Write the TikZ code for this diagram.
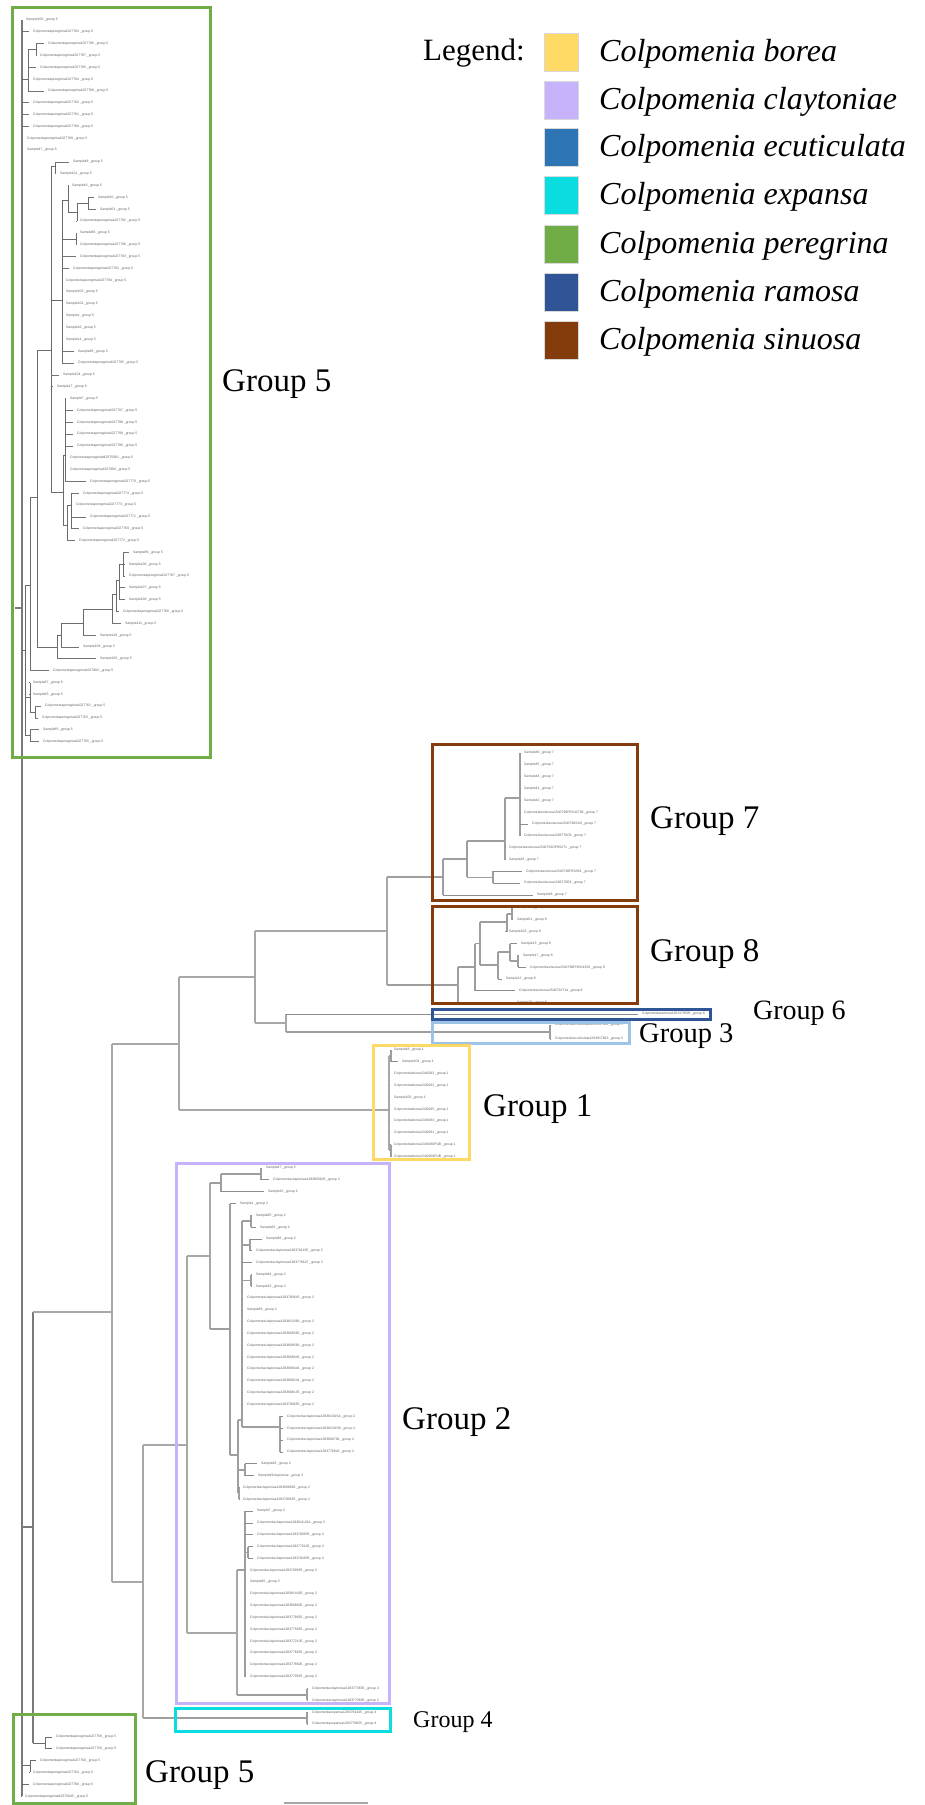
\documentclass[tikz,border=0pt]{standalone}
\usepackage{fontspec}
\setmainfont{Liberation Serif}
\newfontfamily\leaffont{Liberation Sans}

\definecolor{cborea}{HTML}{FFD966}
\definecolor{cclay}{HTML}{C7B3FC}
\definecolor{cecut}{HTML}{2E75B6}
\definecolor{cexp}{HTML}{0ADCE0}
\definecolor{cpere}{HTML}{70AD47}
\definecolor{cramo}{HTML}{2F5597}
\definecolor{csinu}{HTML}{843C0C}
\definecolor{cecutbox}{HTML}{9DC3E6}

% leaf label texts
\newcommand\lsm[2]{Sample#1 \_group #2}
\newcommand\lpg[1]{Colpomeniaperegrina#1 \_group 5}
\newcommand\lcl[1]{Colpomeniaclaytoniae#1 \_group 2}
\newcommand\lsn[2]{Colpomeniasinuosa#1 \_group #2}
\newcommand\lbo[1]{Colpomeniaborea#1 \_group 1}
\newcommand\lex[1]{Colpomeniaexpansa#1 \_group 4}

% internal node: name, x, top y, bottom y, y where the parent branch enters
\newcommand\dnode[5]{%
  \coordinate (#1) at (#2,#5);
  \coordinate (#1-top) at (#2,#3);
  \coordinate (#1-bot) at (#2,#4);
  \draw[br] (#1-top) -- (#1-bot);}
% horizontal branch from a parent node to a child node
\newcommand\dlink[2]{\draw[br] (#1 |- #2) -- (#2);}
% leaf: name, parent, y, x of label text, text
\newcommand\dleaf[5]{%
  \node[lf] (#1) at ({#4-4.5},#3) {#5};
  \draw[tip] (#2 |- #1.west) -- (#1.west);}

\tikzset{
  lf/.style={anchor=west, inner xsep=4.5pt, inner ysep=0pt, text=black!62,
    font=\leaffont\fontsize{3.4}{4}\selectfont},
  grp/.style={anchor=base west, inner sep=0pt},
  sp/.style={anchor=base west, inner sep=0pt, font=\itshape\fontsize{32}{36}\selectfont},
  sq/.style={minimum width=34pt, minimum height=38pt, inner sep=0pt, draw=white!85!black, line width=0.6pt},
  box/.style={line width=3pt},
}

\begin{document}
\begin{tikzpicture}[x=1pt,y=-1pt]
\useasboundingbox (0,0) rectangle (924,1805);
\fill[white] (0,0) rectangle (924,1805);

% ---------- root ----------
\tikzset{br/.style={draw=black!52,line width=1.2pt}, tip/.style={draw=black!55,line width=0.75pt}}
\dnode{R}{22}{20}{1796}{608}
\coordinate (stub) at (15,608);
\draw[br] (stub) -- (R);

% ---------- upper peregrina clade ----------
\tikzset{br/.style={draw=black!58,line width=0.8pt}}
\dleaf{a1}{R}{20.0}{26}{\lsm{100}{5}}
\dleaf{a2}{R}{31.8}{33}{\lpg{1027783}}
\dnode{N28}{28}{49.6}{91.0}{79.2}\dlink{R}{N28}
\dnode{N36}{36}{43.7}{55.5}{49.6}\dlink{N28}{N36}
\dleaf{a3}{N36}{43.7}{48}{\lpg{1027786}}
\dleaf{a4}{N36}{55.5}{40}{\lpg{1027787}}
\dleaf{a5}{N28}{67.3}{40}{\lpg{1027785}}
\dleaf{a6}{N28}{79.2}{33}{\lpg{1027784}}
\dleaf{a7}{N28}{91.0}{48}{\lpg{1027788}}
\dleaf{a8}{R}{102.8}{33}{\lpg{1027782}}
\dleaf{a9}{R}{114.6}{33}{\lpg{1027781}}
\dleaf{a10}{R}{126.5}{33}{\lpg{1027780}}
\dleaf{a11}{R}{138.3}{27}{\lpg{1027789}}
\dleaf{a12}{R}{150.1}{27}{\lsm{47}{5}}
\dnode{N25}{25}{585}{735.7}{650}\dlink{R}{N25}
\dnode{N30}{30}{497}{670.7}{585}\dlink{N25}{N30}
\dnode{N37}{37}{350}{647}{497}\dlink{N30}{N37}
\dnode{N51}{51}{166}{492}{350}\dlink{N37}{N51}
\dnode{N55}{55}{162.0}{173.8}{166}\dlink{N51}{N55}
\dleaf{a13}{N55}{162.0}{73}{\lsm{48}{5}}
\dleaf{a14}{N55}{173.8}{60}{\lsm{101}{5}}
\dnode{N62}{62}{200}{363.1}{300}\dlink{N51}{N62}
\dnode{N68}{68}{185.6}{212}{200}\dlink{N62}{N68}
\dleaf{a15}{N68}{185.6}{72}{\lsm{49}{5}}
\dnode{N77}{77}{203.4}{221.1}{212}\dlink{N68}{N77}
\dnode{N88}{88}{197.5}{209.3}{203.4}\dlink{N77}{N88}
\dleaf{a16}{N88}{197.5}{98}{\lsm{50}{5}}
\dleaf{a17}{N88}{209.3}{100}{\lsm{51}{5}}
\dleaf{a18}{N77}{221.1}{80}{\lpg{1027792}}
\dnode{N76}{76}{232.9}{244.8}{238.9}\dlink{N62}{N76}
\dleaf{a19}{N76}{232.9}{80}{\lsm{86}{5}}
\dleaf{a20}{N76}{244.8}{80}{\lpg{1027790}}
\dleaf{a21}{N62}{256.6}{80}{\lpg{1027793}}
\dleaf{a22}{N62}{268.4}{73}{\lpg{1027791}}
\dleaf{a23}{N62}{280.3}{66}{\lpg{1027794}}
\dleaf{a24}{N62}{292.1}{66}{\lsm{103}{5}}
\dleaf{a25}{N62}{303.9}{66}{\lsm{102}{5}}
\dleaf{a26}{N62}{315.8}{66}{\lsm{1}{5}}
\dleaf{a27}{N62}{327.6}{66}{\lsm{16}{5}}
\dleaf{a28}{N62}{339.4}{66}{\lsm{14}{5}}
\dleaf{a29}{N62}{351.2}{78}{\lsm{88}{5}}
\dleaf{a30}{N62}{363.1}{78}{\lpg{1027795}}
\dleaf{a31}{N51}{374.9}{63}{\lsm{104}{5}}
\dleaf{a32}{N51}{386.7}{57}{\lsm{17}{5}}
\dnode{N63}{63}{455}{525}{492}\dlink{N51}{N63}
\dnode{N65}{65}{398.6}{481.4}{455}\dlink{N63}{N65}
\dleaf{a33}{N65}{398.6}{70}{\lsm{7}{5}}
\dleaf{a34}{N65}{410.4}{77}{\lpg{1027797}}
\dleaf{a35}{N65}{422.2}{77}{\lpg{1027798}}
\dleaf{a36}{N65}{434.1}{77}{\lpg{1027799}}
\dleaf{a37}{N65}{445.9}{77}{\lpg{1027796}}
\dleaf{a38}{N65}{457.7}{70}{\lpg{MZ675061}}
\dleaf{a39}{N65}{469.5}{70}{\lpg{1027800}}
\dleaf{a40}{N65}{481.4}{90}{\lpg{1027770}}
\dnode{N67}{67}{505}{540.5}{525}\dlink{N63}{N67}
\dnode{N71}{71}{493.2}{528.7}{505}\dlink{N67}{N71}
\dleaf{a41}{N71}{493.2}{83}{\lpg{1027774}}
\dleaf{a42}{N71}{505.0}{76}{\lpg{1027773}}
\dleaf{a43}{N71}{516.9}{90}{\lpg{1027771}}
\dleaf{a44}{N71}{528.7}{83}{\lpg{1027769}}
\dleaf{a45}{N67}{540.5}{79}{\lpg{1027772}}
\dnode{N57}{57}{635}{658.8}{647}\dlink{N37}{N57}
\dnode{N61}{61}{623}{647}{635}\dlink{N57}{N61}
\dnode{N83}{83}{609}{635.2}{623}\dlink{N61}{N83}
\dnode{N112b}{112}{594}{623.3}{609}\dlink{N83}{N112b}
\dnode{N116}{116}{580}{611.5}{594}\dlink{N112b}{N116}
\dnode{N119}{119}{564.2}{599.7}{580}\dlink{N116}{N119}
\dnode{N123}{123}{552.4}{576}{564.2}\dlink{N119}{N123}
\dleaf{a46}{N123}{552.4}{133}{\lsm{89}{5}}
\dleaf{a47}{N123}{564.2}{129}{\lsm{106}{5}}
\dleaf{a48}{N123}{576.0}{129}{\lpg{1027767}}
\dleaf{a49}{N119}{587.8}{129}{\lsm{107}{5}}
\dleaf{a50}{N119}{599.7}{129}{\lsm{108}{5}}
\dleaf{a51}{N116}{611.5}{123}{\lpg{1027768}}
\dleaf{a52}{N112b}{623.3}{125}{\lsm{111}{5}}
\dleaf{a53}{N83}{635.2}{100}{\lsm{110}{5}}
\dleaf{a54}{N61}{647.0}{83}{\lsm{109}{5}}
\dleaf{a55}{N57}{658.8}{100}{\lsm{105}{5}}
\dleaf{a56}{N30}{670.7}{53}{\lpg{1027802}}
\dnode{N30b}{30}{682.5}{712}{697}\dlink{N25}{N30b}
\dleaf{a57}{N30b}{682.5}{33}{\lsm{87}{5}}
\dleaf{a58}{N30b}{694.3}{33}{\lsm{83}{5}}
\dnode{N35}{35}{706.1}{718}{712}\dlink{N30b}{N35}
\dleaf{a59}{N35}{706.1}{45}{\lpg{1027761}}
\dleaf{a60}{N35}{718.0}{42}{\lpg{1027763}}
\dnode{N29b}{30}{729.8}{741.6}{735.7}\dlink{N25}{N29b}
\dleaf{a61}{N29b}{729.8}{43}{\lsm{85}{5}}
\dleaf{a62}{N29b}{741.6}{43}{\lpg{1027765}}

% ---------- backbone of the lower tree ----------
\tikzset{br/.style={draw=black!52,line width=1.2pt}}
\dnode{N33}{33}{1312}{1743}{1527}\dlink{R}{N33}
\tikzset{br/.style={draw=black!34,line width=1.6pt}, tip/.style={draw=black!45,line width=0.8pt}}
\dnode{N112}{112}{1044}{1582}{1312}\dlink{N33}{N112}
\dnode{N179}{179}{977}{1110}{1044}\dlink{N112}{N179}
\dnode{N255}{255}{931}{1023}{977}\dlink{N179}{N255}
\dnode{N387}{387}{877}{985}{931}\dlink{N255}{N387}
\dnode{N286}{286}{1014}{1032}{1023}\dlink{N255}{N286}
\dnode{N389}{389}{1056}{1150}{1110}\dlink{N179}{N389}
\dnode{N143}{143}{1445}{1718}{1582}\dlink{N112}{N143}
\dnode{N187}{187}{1256}{1633}{1445}\dlink{N143}{N187}
\dnode{N210}{210}{1183}{1329}{1256}\dlink{N187}{N210}
\dnode{N237}{237}{1570}{1695}{1633}\dlink{N187}{N237}

\tikzset{br/.style={draw=black!38,line width=1.1pt}}
% group 7
\dnode{N443}{443}{859}{895}{877}\dlink{N387}{N443}
\dnode{N467}{467}{841}{877.2}{859}\dlink{N443}{N467}
\dnode{N505}{505}{798}{859.5}{841}\dlink{N467}{N505}
\dnode{N520}{520}{753}{835.8}{798}\dlink{N505}{N520}
\dleaf{b1}{N520}{753.0}{524}{\lsm{49}{7}}
\dleaf{b2}{N520}{764.8}{524}{\lsm{45}{7}}
\dleaf{b3}{N520}{776.7}{524}{\lsm{44}{7}}
\dleaf{b4}{N520}{788.5}{524}{\lsm{43}{7}}
\dleaf{b5}{N520}{800.3}{524}{\lsm{42}{7}}
\dleaf{b6}{N520}{812.2}{524}{\lsn{1540790PEX42708}{7}}
\dleaf{b7}{N520}{824.0}{532}{\lsn{1540790SA9}{7}}
\dleaf{b8}{N520}{835.8}{524}{\lsn{1283770C8}{7}}
\dleaf{b9}{N505}{847.6}{509}{\lsn{1540791GP9S271}{7}}
\dleaf{b10}{N505}{859.5}{509}{\lsm{46}{7}}
\dnode{N493}{493}{871.3}{883.1}{877.2}\dlink{N467}{N493}
\dleaf{b11}{N493}{871.3}{526}{\lsn{1540790PEX561}{7}}
\dleaf{b12}{N493}{883.1}{524}{\lsn{1283770E4}{7}}
\dleaf{b13}{N443}{895.0}{537}{\lsm{48}{7}}

% group 8
\dnode{N458}{458}{967}{1002.6}{985}\dlink{N387}{N458}
\dnode{N475}{475}{943.5}{990.8}{967}\dlink{N458}{N475}
\dnode{N480}{480}{922}{965}{943.5}\dlink{N475}{N480}
\dnode{N507}{507}{914}{931.7}{922}\dlink{N480}{N507}
\dnode{N512}{512}{908}{919.8}{914}\dlink{N507}{N512}
\dleaf{c1}{N512}{908.0}{517}{\lsm{50}{8}}
\dleaf{c2}{N512}{919.8}{517}{\lsm{51}{8}}
\dleaf{c3}{N507}{931.7}{509}{\lsm{102}{8}}
\dnode{N498}{498}{952}{979}{965}\dlink{N480}{N498}
\dnode{N510}{510}{943.5}{961}{952}\dlink{N498}{N510}
\dleaf{c4}{N510}{943.5}{521}{\lsm{13}{8}}
\dnode{N518}{518}{955.3}{967.2}{961}\dlink{N510}{N518}
\dleaf{c5}{N518}{955.3}{523}{\lsm{17}{8}}
\dleaf{c6}{N518}{967.2}{530}{\lsn{1540790PHCK4933}{8}}
\dleaf{c7}{N498}{979.0}{506}{\lsm{12}{8}}
\dleaf{c8}{N475}{990.8}{519}{\lsn{1540791T14}{8}}
\dleaf{c9}{N458}{1002.6}{517}{\lsm{29}{8}}

% groups 6 and 3
\dleaf{d1}{N286}{1014}{642}{Colpomeniaramosa1261379505 \_group 6}
\dnode{N550}{550}{1025}{1039}{1032}\dlink{N286}{N550}
\dleaf{d2}{N550}{1025}{555}{Colpomeniaecuticulata1283917662 \_group 3}
\dleaf{d3}{N550}{1039}{555}{Colpomeniaecuticulata1283917663 \_group 3}

% group 1
\dnode{N391}{391}{1050}{1061.8}{1056}\dlink{N389}{N391}
\dleaf{e1}{N391}{1050.0}{394}{\lsm{48}{1}}
\dleaf{e2}{N391}{1061.8}{402}{\lsm{104}{1}}
\dleaf{e3}{N389}{1073.7}{394}{\lbo{1340933}}
\dleaf{e4}{N389}{1085.5}{394}{\lbo{1340932}}
\dleaf{e5}{N389}{1097.3}{394}{\lsm{100}{1}}
\dleaf{e6}{N389}{1109.2}{394}{\lbo{1340935}}
\dleaf{e7}{N389}{1121.0}{394}{\lbo{1340934}}
\dleaf{e8}{N389}{1132.8}{394}{\lbo{1340931}}
\dnode{N391b}{391}{1144.6}{1156.5}{1150}\dlink{N389}{N391b}
\dleaf{e9}{N391b}{1144.6}{394}{\lbo{1340930PUB}}
\dleaf{e10}{N391b}{1156.5}{394}{\lbo{1340929PUB}}

% group 2
\dnode{N221}{221}{1174}{1191.7}{1183}\dlink{N210}{N221}
\dnode{N261}{261}{1168}{1179.8}{1174}\dlink{N221}{N261}
\dleaf{f1}{N261}{1168.0}{266}{\lsm{47}{2}}
\dleaf{f2}{N261}{1179.8}{273}{\lcl{1283850645}}
\dleaf{f3}{N221}{1191.7}{268}{\lsm{15}{2}}
\dnode{N230}{230}{1203.5}{1455}{1329}\dlink{N210}{N230}
\dleaf{f4}{N230}{1203.5}{240}{\lsm{1}{2}}
\dnode{N238}{238}{1420}{1493}{1455}\dlink{N230}{N238}
\dnode{N242}{242}{1221}{1427}{1420}\dlink{N238}{N242}
\dnode{N251a}{251}{1215.3}{1227.2}{1221}\dlink{N242}{N251a}
\dleaf{f5}{N251a}{1215.3}{256}{\lsm{85}{2}}
\dleaf{f6}{N251a}{1227.2}{260}{\lsm{83}{2}}
\dnode{N250}{250}{1239}{1250.8}{1245}\dlink{N242}{N250}
\dleaf{f7}{N250}{1239.0}{266}{\lsm{86}{2}}
\dleaf{f8}{N250}{1250.8}{256}{\lcl{1283781105}}
\dleaf{f9}{N242}{1262.6}{256}{\lcl{1283778627}}
\dnode{N251b}{251}{1274.5}{1286.3}{1280.4}\dlink{N242}{N251b}
\dleaf{f10}{N251b}{1274.5}{256}{\lsm{84}{2}}
\dleaf{f11}{N251b}{1286.3}{256}{\lsm{32}{2}}
\dleaf{f12}{N242}{1298.1}{247}{\lcl{1283780645}}
\dleaf{f13}{N242}{1310.0}{247}{\lsm{89}{2}}
\dleaf{f14}{N242}{1321.8}{247}{\lcl{1283813363}}
\dleaf{f15}{N242}{1333.6}{247}{\lcl{1283808562}}
\dleaf{f16}{N242}{1345.5}{247}{\lcl{1283808563}}
\dleaf{f17}{N242}{1357.3}{247}{\lcl{1283808645}}
\dleaf{f18}{N242}{1369.1}{247}{\lcl{1283808444}}
\dleaf{f19}{N242}{1380.9}{247}{\lcl{1283808244}}
\dleaf{f20}{N242}{1392.8}{247}{\lcl{1283808135}}
\dleaf{f21}{N242}{1404.6}{247}{\lcl{1283780655}}
\dnode{N280}{280}{1416.4}{1451.9}{1427}\dlink{N242}{N280}
\dleaf{f22}{N280}{1416.4}{287}{\lcl{1283813USA}}
\dleaf{f23}{N280}{1428.3}{287}{\lcl{1283813USB}}
\dleaf{f24}{N280}{1440.1}{287}{\lcl{1283800792}}
\dleaf{f25}{N280}{1451.9}{287}{\lcl{1283776842}}
\dnode{N245}{245}{1463.8}{1475.6}{1470}\dlink{N238}{N245}
\dleaf{f26}{N245}{1463.8}{261}{\lsm{48}{2}}
\dleaf{f27}{N245}{1475.6}{258}{Sample49claytoniae \_group 2}
\dnode{N239}{239}{1487.4}{1499.2}{1493}\dlink{N238}{N239}
\dleaf{f28}{N239}{1487.4}{243}{\lcl{1283808605}}
\dleaf{f29}{N239}{1499.2}{243}{\lcl{1283780655}}
\dnode{N245b}{245}{1511.1}{1676.7}{1570}\dlink{N237}{N245b}
\dleaf{f30}{N245b}{1511.1}{257}{\lsm{7}{2}}
\dleaf{f31}{N245b}{1522.9}{257}{\lcl{1283811USA}}
\dleaf{f32}{N245b}{1534.7}{257}{\lcl{1283780655}}
\dnode{N248}{248}{1546.6}{1558.4}{1552.5}\dlink{N245b}{N248}
\dleaf{f33}{N248}{1546.6}{257}{\lcl{1283770105}}
\dleaf{f34}{N248}{1558.4}{257}{\lcl{1283784655}}
\dleaf{f35}{N245b}{1570.2}{250}{\lcl{1283780655}}
\dleaf{f36}{N245b}{1582.0}{250}{\lsm{85}{2}}
\dleaf{f37}{N245b}{1593.9}{250}{\lcl{1283814405}}
\dleaf{f38}{N245b}{1605.7}{250}{\lcl{1283808605}}
\dleaf{f39}{N245b}{1617.5}{250}{\lcl{1283778655}}
\dleaf{f40}{N245b}{1629.4}{250}{\lcl{1283775655}}
\dleaf{f41}{N245b}{1641.2}{250}{\lcl{1283772105}}
\dleaf{f42}{N245b}{1653.0}{250}{\lcl{1283776655}}
\dleaf{f43}{N245b}{1664.8}{250}{\lcl{1283778605}}
\dleaf{f44}{N245b}{1676.7}{250}{\lcl{1283779655}}
\dnode{N307}{307}{1688.5}{1700.3}{1695}\dlink{N237}{N307}
\dleaf{f45}{N307}{1688.5}{312}{\lcl{1283773655}}
\dleaf{f46}{N307}{1700.3}{312}{\lcl{1283773665}}

% group 4
\dnode{N307b}{307}{1712.2}{1724}{1718}\dlink{N143}{N307b}
\dleaf{g1}{N307b}{1712.2}{312}{\lex{1283791445}}
\dleaf{g2}{N307b}{1724.0}{312}{\lex{1283776655}}

% lower peregrina clade
\tikzset{br/.style={draw=black!58,line width=0.8pt}, tip/.style={draw=black!58,line width=0.75pt}}
\dnode{N45}{45}{1737}{1748.8}{1743}\dlink{N33}{N45}
\dleaf{h1}{N45}{1737.0}{56}{\lpg{1027758}}
\dleaf{h2}{N45}{1748.8}{56}{\lpg{1027759}}
\dnode{N30c}{30}{1760.6}{1772.4}{1765}\dlink{R}{N30c}
\dleaf{h3}{N30c}{1760.6}{40}{\lpg{1027760}}
\dleaf{h4}{N30c}{1772.4}{33}{\lpg{1027764}}
\dleaf{h5}{R}{1784.3}{33}{\lpg{1027766}}
\dleaf{h6}{R}{1796.1}{25}{\lpg{MZ675045}}

% ---------- group boxes ----------
\draw[box, cpere] (12,7) rectangle (210,757);
\draw[box, csinu] (432,744) rectangle (637,900);
\draw[box, csinu] (432,906) rectangle (637,1003);
\draw[box, cramo] (432,1009) rectangle (710,1019);
\draw[box, cecutbox] (432,1022) rectangle (629,1043);
\draw[box, cborea] (373,1045) rectangle (469,1159);
\draw[box, cclay] (176,1163) rectangle (389,1703);
\draw[box, cexp] (175,1708) rectangle (390,1731);
\draw[box, cpere] (13,1714) rectangle (135,1803);

% ---------- group labels ----------
\node[grp, font=\fontsize{33}{36}\selectfont] (g5a) at (222,391) {Group 5};
\node[grp, font=\fontsize{33}{36}\selectfont] (g7) at (650,828) {Group 7};
\node[grp, font=\fontsize{33}{36}\selectfont] (g8) at (650,961) {Group 8};
\node[grp, font=\fontsize{28}{32}\selectfont] (g6) at (753,1019) {Group 6};
\node[grp, font=\fontsize{28.5}{32}\selectfont] (g3) at (639,1042) {Group 3};
\node[grp, font=\fontsize{33}{36}\selectfont] (g1) at (483,1116) {Group 1};
\node[grp, font=\fontsize{33}{36}\selectfont] (g2) at (402,1429) {Group 2};
\node[grp, font=\fontsize{24}{28}\selectfont] (g4) at (413,1727) {Group 4};
\node[grp, font=\fontsize{33}{36}\selectfont] (g5b) at (145,1782) {Group 5};

% ---------- scale bar ----------
\coordinate (sb1) at (284,1803);
\coordinate (sb2) at (368,1803);
\draw[draw=black!35, line width=2pt] (sb1) -- (sb2);

% ---------- legend ----------
\node[grp, font=\fontsize{31}{34}\selectfont] (leg) at (423,60.5) {Legend:};
\node[sq, fill=cborea] (k1) at (561,52) {};
\node[sq, fill=cclay]  (k2) at (561,100) {};
\node[sq, fill=cecut]  (k3) at (561,147) {};
\node[sq, fill=cexp]   (k4) at (561,195) {};
\node[sq, fill=cpere]  (k5) at (561,244) {};
\node[sq, fill=cramo]  (k6) at (561,292) {};
\node[sq, fill=csinu]  (k7) at (561,340) {};
\node[sp] (s1) at (599,61) {Colpomenia borea};
\node[sp] (s2) at (599,109) {Colpomenia claytoniae};
\node[sp] (s3) at (599,156) {Colpomenia ecuticulata};
\node[sp] (s4) at (599,204) {Colpomenia expansa};
\node[sp] (s5) at (599,253) {Colpomenia peregrina};
\node[sp] (s6) at (599,301) {Colpomenia ramosa};
\node[sp] (s7) at (599,349) {Colpomenia sinuosa};
\end{tikzpicture}
\end{document}
